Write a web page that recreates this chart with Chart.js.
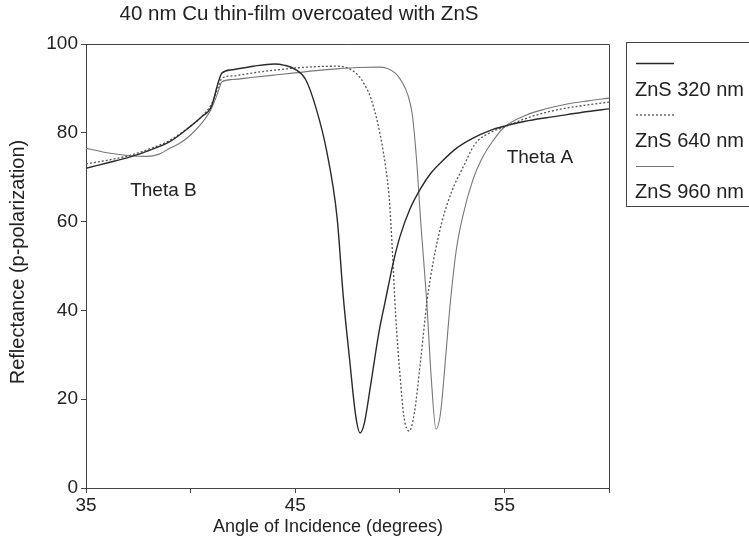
<!DOCTYPE html>
<html><head><meta charset="utf-8">
<script src="https://cdn.jsdelivr.net/npm/chart.js@4/dist/chart.umd.min.js"></script>
<style>html,body{margin:0;padding:0;background:#fff}#wrap{width:749px;height:543px;position:relative}</style>
</head><body><div id="wrap"><canvas id="c" width="749" height="543"></canvas></div>
<script>
const chartTitle = '40 nm Cu thin-film overcoated with ZnS';
const xAxisTitle = 'Angle of Incidence (degrees)';
const yAxisTitle = 'Reflectance (p-polarization)';
const seriesLabels = ['ZnS 320 nm', 'ZnS 640 nm', 'ZnS 960 nm'];
const xTicks = [35, 40, 45, 50, 55, 60];
const xTickLabels = ['35', '', '45', '', '55', ''];
const yTicks = [0, 20, 40, 60, 80, 100];

const angles320 = [35,36,37,38,39,40,40.5,41,41.3,41.5,42,43,44,44.5,45,45.5,46,46.5,47,47.3,47.6,47.9,48.1,48.3,48.6,49,49.3,49.7,50,50.5,51,51.5,52,52.7,53.5,54.3,55,56,57,58,59,60];
const refl320   = [72,73.2,74.4,76,78,81.5,83.5,86,91,93.5,94.2,95,95.5,95.2,94.3,92,85.5,76,61,43,29,16,12.4,14.5,23,35,42,51,56.5,63,67.5,71,73.5,76.5,78.8,80.5,81.5,82.6,83.4,84.1,84.8,85.4];

const angles640 = [35,36,37,38,39,40,40.5,41,41.3,41.5,42,43,44,45,46,47,47.5,48,48.3,48.6,49,49.3,49.5,49.65,49.8,50,50.2,50.45,50.7,51,51.3,51.6,52,52.5,53,53.6,54.3,55,56,57,58,59,60];
const refl640   = [73,73.8,74.8,76.3,78.3,81.5,83.5,86.5,90,92.3,92.8,93.5,94.1,94.6,94.9,95,94.6,93,91,88,81,73,65,53,39,26,16,12.8,17,29,42,51,59.7,67,72,77.5,80,81.3,83.2,84.6,85.6,86.3,86.9];

const angles960 = [35,35.5,36,37,37.9,38.5,39,39.5,40,40.5,41,41.3,41.5,42,43,44,45,46,47,48,49,49.4,49.8,50.1,50.4,50.6,50.8,51,51.3,51.5,51.73,51.95,52.2,52.4,52.7,53,53.5,53.9,54.5,55,56,57,58,59,60];
const refl960   = [76.5,76,75.5,74.9,74.7,75.2,76.5,77.7,79.5,82,85.5,89,91.5,92,92.5,93,93.5,94,94.4,94.7,94.8,94.5,93.4,91.5,88.3,84,74,60,41,25,13.3,17,30,41,53.6,61,69.5,74,78.5,81.3,83.9,85.4,86.5,87.2,87.8];

const annotationTexts = ['Theta B', 'Theta A'];
const annotationAngles = [38.7, 56.7];
const annotationRefl = [67, 74.3];

const FONT = "'Liberation Sans', Arial, Helvetica, sans-serif";
const TXT = '#222';

const styles = [
  {color: '#2a2a2a', width: 1.4, dash: []},
  {color: '#555', width: 1.3, dash: [2, 2]},
  {color: '#777', width: 1.1, dash: []}
];

function pts(xs, ys) { return xs.map((x, i) => ({x: x, y: ys[i]})); }
const seriesData = [pts(angles320, refl320), pts(angles640, refl640), pts(angles960, refl960)];

const decorPlugin = {
  id: 'decor',
  afterDraw(chart) {
    const ctx = chart.ctx, a = chart.chartArea;
    const xs = chart.scales.x, ys = chart.scales.y;
    ctx.save();
    ctx.strokeStyle = '#444'; ctx.lineWidth = 1; ctx.setLineDash([]);
    ctx.beginPath();
    ctx.moveTo(a.left, Math.round(a.top) + 0.5);
    ctx.lineTo(Math.round(a.right) + 0.5, Math.round(a.top) + 0.5);
    ctx.lineTo(Math.round(a.right) + 0.5, a.bottom);
    ctx.stroke();
    ctx.fillStyle = TXT;
    ctx.textAlign = 'center'; ctx.textBaseline = 'middle';
    ctx.font = '20.5px ' + FONT;
    ctx.fillText(chartTitle, 299, 14);
    ctx.font = '18px ' + FONT;
    ctx.fillText(xAxisTitle, 328, 527);
    ctx.save();
    ctx.translate(18, 262);
    ctx.rotate(-Math.PI / 2);
    ctx.font = '20px ' + FONT;
    ctx.fillText(yAxisTitle, 0, 0);
    ctx.restore();
    ctx.font = '19px ' + FONT;
    annotationTexts.forEach((t, i) => {
      ctx.fillText(t, xs.getPixelForValue(annotationAngles[i]), ys.getPixelForValue(annotationRefl[i]));
    });
    ctx.strokeStyle = '#444'; ctx.lineWidth = 1;
    ctx.strokeRect(626.5, 42.5, 140, 164);
    chart.data.datasets.forEach((ds, i) => {
      const ly = 63 + i * 51.5;
      ctx.strokeStyle = ds.borderColor; ctx.lineWidth = ds.borderWidth;
      ctx.setLineDash(ds.borderDash || []);
      ctx.beginPath(); ctx.moveTo(636, ly + 0.5); ctx.lineTo(674, ly + 0.5); ctx.stroke();
      ctx.setLineDash([]);
      ctx.fillStyle = TXT; ctx.textAlign = 'left'; ctx.textBaseline = 'middle';
      ctx.font = '20px ' + FONT;
      ctx.fillText(ds.label, 635, 90 + i * 51);
    });
    ctx.restore();
  }
};

new Chart(document.getElementById('c'), {
  type: 'line',
  data: {
    datasets: seriesLabels.map((lab, i) => ({
      label: lab,
      data: seriesData[i],
      borderColor: styles[i].color,
      borderWidth: styles[i].width,
      borderDash: styles[i].dash,
      pointRadius: 0,
      fill: false,
      tension: 0.4,
      cubicInterpolationMode: 'monotone'
    }))
  },
  options: {
    responsive: false,
    animation: false,
    devicePixelRatio: 1,
    layout: {padding: {top: 44, right: 140, left: 0, bottom: 0}},
    plugins: {legend: {display: false}, title: {display: false}, tooltip: {enabled: false}},
    scales: {
      x: {
        type: 'linear', min: 35, max: 60,
        afterBuildTicks: s => { s.ticks = xTicks.map(v => ({value: v})); },
        afterFit: s => { s.height = 55; },
        ticks: {
          autoSkip: false, maxRotation: 0, padding: 1,
          color: TXT, font: {family: FONT, size: 19},
          callback: v => xTickLabels[xTicks.indexOf(v)]
        },
        grid: {drawOnChartArea: false, drawTicks: true, tickLength: 5, color: '#444'},
        border: {display: true, color: '#444', width: 1}
      },
      y: {
        min: 0, max: 100,
        afterBuildTicks: s => { s.ticks = yTicks.map(v => ({value: v})); },
        afterFit: s => { s.width = 86; },
        ticks: {padding: 3, color: TXT, font: {family: FONT, size: 19}},
        grid: {drawOnChartArea: false, drawTicks: true, tickLength: 5, color: '#444'},
        border: {display: true, color: '#444', width: 1}
      }
    }
  },
  plugins: [decorPlugin]
});
</script>
</body></html>
